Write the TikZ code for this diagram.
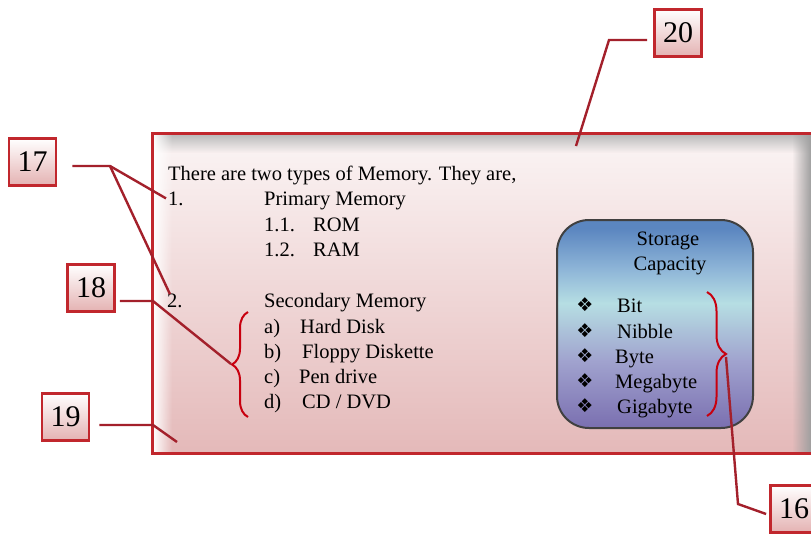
\documentclass[tikz,border=0pt]{standalone}
\usepackage{fontspec}
\setmainfont{Liberation Serif}
\newfontfamily\symfont{DejaVu Sans}
\usetikzlibrary{decorations.pathreplacing,fadings}
\definecolor{frame}{HTML}{C1272D}
\definecolor{lead}{HTML}{A3202B}
\definecolor{brc}{HTML}{C8000F}
\definecolor{pinktop}{HTML}{FBF5F5}
\definecolor{pinkbot}{HTML}{E4B9B9}
\definecolor{lblbot}{HTML}{E4B2B2}
\definecolor{captop}{HTML}{5B86C0}
\definecolor{capmid}{HTML}{8FB6D8}
\definecolor{capcyan}{HTML}{B6DEE3}
\definecolor{caplav}{HTML}{A0A2CE}
\definecolor{capbot}{HTML}{7A6FB0}
\definecolor{capline}{HTML}{404040}
\pgfdeclareverticalshading{capshade}{100bp}{color(0bp)=(capbot); color(25bp)=(capbot); color(41bp)=(caplav); color(55bp)=(capcyan); color(63bp)=(capmid); color(73bp)=(captop); color(100bp)=(captop)}
\tikzset{
  lbl/.style={draw=frame, line width=2.8pt, top color=white, bottom color=lblbot,
    minimum width=47pt, minimum height=47pt, inner sep=0pt, font=\fontsize{30}{30}\selectfont},
  leader/.style={draw=lead, line width=2.4pt, line join=miter},
  txt/.style={anchor=base west, inner sep=0pt, font=\fontsize{20.5}{24}\selectfont},
  ctxt/.style={anchor=base, inner sep=0pt, font=\fontsize{20.5}{24}\selectfont},
  bul/.style={inner sep=0pt, font=\symfont\fontsize{19}{19}\selectfont},
  bracestyle/.style={draw=brc, line width=2pt, decorate},
  capbox/.style={draw=capline, line width=2pt, shade, shading=capshade, rounded corners=32pt,
    minimum width=196pt, minimum height=208pt, inner sep=0pt}
}
\begin{document}
\begin{tikzpicture}[x=1pt,y=-1pt]
\useasboundingbox (0,0) rectangle (811,533);
\clip (0,0) rectangle (811,533);
% main panel
\path[top color=pinktop, bottom color=pinkbot] (152,133) rectangle (830,453);
\fill[gray!55, path fading=south] (153,134) rectangle (830,153);
\fill[white, path fading=east] (153,134) rectangle (172,452);
\fill[gray!75, path fading=west] (792,134) rectangle (811,452);
\draw[frame, line width=3pt] (152,133) rectangle (830,453);
% text
\node[txt] (t0) at (168,180) {There are two types of Memory. They are,};
\node[txt] (n1) at (168,205) {1.};
\node[txt] (p1) at (264,205) {Primary Memory};
\node[txt] (r1n) at (264,231) {1.1.};
\node[txt] (r1) at (313,231) {ROM};
\node[txt] (r2n) at (264,256) {1.2.};
\node[txt] (r2) at (313,256) {RAM};
\node[txt] (n2) at (167,307) {2.};
\node[txt] (p2) at (264,307) {Secondary Memory};
\node[txt] (sa) at (264,333) {a)};
\node[txt] (sat) at (300,333) {Hard Disk};
\node[txt] (sb) at (264,358) {b)};
\node[txt] (sbt) at (302,358) {Floppy Diskette};
\node[txt] (sc) at (264,383) {c)};
\node[txt] (sct) at (299,383) {Pen drive};
\node[txt] (sd) at (264,408) {d)};
\node[txt] (sdt) at (302,408) {CD / DVD};
% left brace
\draw[bracestyle, decoration={brace, amplitude=16pt}] (248,417) -- (248,312);
\coordinate (br1tip) at (231,364);
% storage capacity box
\node[capbox] (cap) at (655,324) {};
\node[ctxt] (st1) at (668,245) {Storage};
\node[ctxt] (st2) at (670,270) {Capacity};
\node[bul] (b1) at (585,305) {❖};
\node[bul] (b2) at (585,331) {❖};
\node[bul] (b3) at (585,356) {❖};
\node[bul] (b4) at (585,381) {❖};
\node[bul] (b5) at (585,406) {❖};
\node[txt] (c1) at (617,312) {Bit};
\node[txt] (c2) at (617,338) {Nibble};
\node[txt] (c3) at (615,363) {Byte};
\node[txt] (c4) at (615,388) {Megabyte};
\node[txt] (c5) at (617,413) {Gigabyte};
\draw[bracestyle, decoration={brace, amplitude=19pt}] (707,292) -- (707,416);
\coordinate (br2tip) at (726,357);
% labels
\node[lbl] (l17) at (32.5,162) {17};
\node[lbl] (l18) at (91,288) {18};
\node[lbl] (l19) at (65.5,417) {19};
\node[lbl] (l20) at (678,33) {20};
\node[lbl] (l16) at (794,509) {16};
% leaders
\coordinate (k17) at (110,166);
\draw[leader] ([xshift=15pt,yshift=-4pt]l17.east) -- (k17) -- ([xshift=-2pt]n1.west);
\draw[leader] (k17) -- ([xshift=3pt,yshift=-1pt]n2.north west);
\coordinate (k18) at (153,301);
\draw[leader] ([xshift=4pt,yshift=-13pt]l18.east) -- (k18) -- (br1tip);
\coordinate (k19) at (153,425);
\coordinate (c19) at (177,442);
\draw[leader] ([xshift=9pt,yshift=-8pt]l19.east) -- (k19) -- (c19);
\coordinate (k20) at (609,40);
\coordinate (c20) at (576,146);
\draw[leader] ([xshift=-6pt,yshift=-7pt]l20.west) -- (k20) -- (c20);
\coordinate (k16) at (738,504);
\draw[leader] (br2tip) -- (k16) -- ([xshift=-3pt,yshift=-5pt]l16.west);
\end{tikzpicture}
\end{document}
